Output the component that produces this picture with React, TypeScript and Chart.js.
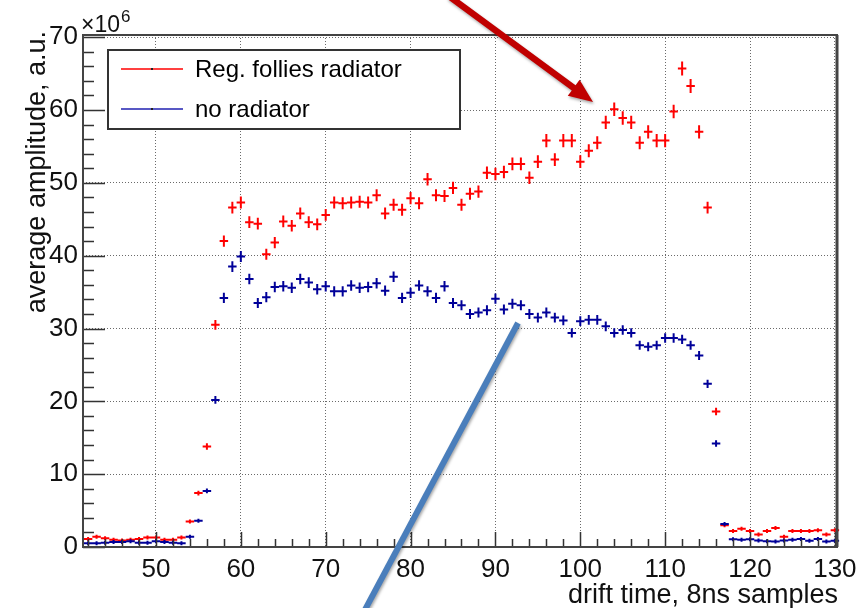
import React, { useEffect, useRef } from 'react';
import { Chart, registerables } from 'chart.js';

Chart.register(...registerables);

// ---- data (amplitudes in units of 10^6) ----
const driftTime = [
  42, 43, 44, 45, 46, 47, 48, 49, 50, 51, 52, 53, 54, 55, 56, 57, 58, 59, 60, 61,
  62, 63, 64, 65, 66, 67, 68, 69, 70, 71, 72, 73, 74, 75, 76, 77, 78, 79, 80, 81,
  82, 83, 84, 85, 86, 87, 88, 89, 90, 91, 92, 93, 94, 95, 96, 97, 98, 99, 100, 101,
  102, 103, 104, 105, 106, 107, 108, 109, 110, 111, 112, 113, 114, 115, 116, 117, 118, 119, 120, 121,
  122, 123, 124, 125, 126, 127, 128, 129, 130,
];

const regFollies = [
  1.1, 1.4, 1.2, 1.0, 0.9, 1.0, 1.1, 1.3, 1.3, 1.0, 1.0, 1.3, 3.5, 7.4, 13.8, 30.5, 42.0, 46.6, 47.3, 44.6,
  44.4, 40.2, 41.8, 44.7, 44.1, 45.8, 44.6, 44.3, 45.6, 47.3, 47.2, 47.3, 47.4, 47.3, 48.3, 45.8, 47.0, 46.3, 47.9, 47.2,
  50.5, 48.3, 48.2, 49.3, 47.0, 48.5, 48.8, 51.4, 51.2, 51.5, 52.6, 52.6, 50.7, 52.9, 55.8, 53.2, 55.8, 55.8, 52.9, 54.4,
  55.5, 58.3, 60.1, 58.9, 58.3, 55.5, 57.0, 55.8, 55.8, 59.8, 65.7, 63.3, 57.0, 46.6, 18.6, 3.0, 2.2, 2.5, 2.2, 1.7,
  2.2, 2.6, 1.4, 2.2, 2.2, 2.2, 2.3, 1.7, 2.3,
];

const noRadiator = [
  0.5, 0.5, 0.6, 0.7, 0.7, 0.8, 0.6, 0.6, 0.8, 0.7, 0.6, 0.5, 1.4, 3.6, 7.7, 20.2, 34.2, 38.5, 39.9, 36.8,
  33.5, 34.3, 35.7, 35.8, 35.6, 36.8, 36.3, 35.4, 35.8, 35.1, 35.1, 35.9, 35.6, 35.7, 36.2, 35.2, 37.1, 34.2, 34.9, 35.9,
  35.1, 34.2, 35.8, 33.5, 33.2, 32.0, 32.2, 32.5, 34.1, 32.6, 33.4, 33.2, 32.0, 31.5, 32.2, 31.5, 31.1, 29.4, 31.0, 31.2,
  31.2, 30.3, 29.4, 29.8, 29.4, 27.7, 27.5, 27.7, 28.7, 28.7, 28.5, 27.7, 26.3, 22.4, 14.2, 3.15, 1.05, 1.0, 1.05, 0.9,
  0.8, 0.75, 0.9, 1.0, 1.1, 0.85, 1.1, 0.75, 0.85,
];

const xTickValues = [50, 60, 70, 80, 90, 100, 110, 120, 130];
const yTickValues = [0, 10, 20, 30, 40, 50, 60, 70];
const seriesLabels = ['Reg. follies radiator', 'no radiator'];
const xTitle = 'drift time, 8ns samples';
const yTitle = 'average amplitude, a.u.';
const yMultiplierBase = '×10';
const yMultiplierExp = '6';

// annotation marks (data coordinates)
const redArrowFrom = [84.5, 75.65];
const redArrowTo = [101.5, 61.1];
const blueLineFrom = [74.5, -8.9];
const blueLineTo = [92.66, 30.76];

const FONT = '"Liberation Sans", Arial, Helvetica, sans-serif';
const RED = '#ff0000';
const BLUE = '#000099';

const decorPlugin = {
  id: 'decor',
  afterDatasetsDraw(chart: any) {
    const ctx = chart.ctx;
    const xs = chart.scales.x;
    const ys = chart.scales.y;
    chart.data.datasets.forEach((ds: any, di: number) => {
      const meta = chart.getDatasetMeta(di);
      ctx.save();
      ctx.strokeStyle = ds.borderColor;
      ctx.lineWidth = 2;
      ctx.beginPath();
      meta.data.forEach((el: any, i: number) => {
        const p = ds.data[i];
        const xl = xs.getPixelForValue(p.x - 0.5);
        const xr = xs.getPixelForValue(p.x + 0.5);
        const err = 0.12 * Math.sqrt(p.y);
        let h = ys.getPixelForValue(p.y - err) - el.y;
        if (h < 2) h = 2;
        ctx.moveTo(xl, el.y);
        ctx.lineTo(xr, el.y);
        ctx.moveTo(el.x, el.y - h);
        ctx.lineTo(el.x, el.y + h);
      });
      ctx.stroke();
      ctx.restore();
    });
  },
  afterDraw(chart: any) {
    const ctx = chart.ctx;
    const xs = chart.scales.x;
    const ys = chart.scales.y;
    const a = chart.chartArea;

    // tick marks (inside, ROOT style)
    ctx.save();
    ctx.strokeStyle = '#333';
    ctx.lineWidth = 1.5;
    ctx.beginPath();
    for (let v = 0; v <= 70; v += 2) {
      const y = Math.round(ys.getPixelForValue(v)) + 0.5;
      const len = v % 10 === 0 ? 22 : 11;
      ctx.moveTo(a.left, y);
      ctx.lineTo(a.left + len, y);
    }
    for (let v = 42; v <= 130; v += 2) {
      const x = Math.round(xs.getPixelForValue(v)) + 0.5;
      const len = v % 10 === 0 ? 15 : 8;
      ctx.moveTo(x, a.bottom);
      ctx.lineTo(x, a.bottom - len);
    }
    ctx.stroke();
    ctx.restore();

    // frame
    ctx.save();
    ctx.strokeStyle = '#444';
    ctx.lineWidth = 2;
    ctx.strokeRect(a.left, a.top, a.right - a.left, a.bottom - a.top);
    ctx.lineWidth = 3;
    ctx.beginPath();
    ctx.moveTo(a.right, a.top);
    ctx.lineTo(a.right, a.bottom);
    ctx.stroke();
    ctx.restore();

    // legend
    ctx.save();
    ctx.fillStyle = '#fff';
    ctx.fillRect(108, 50, 352, 79);
    ctx.strokeStyle = '#333';
    ctx.lineWidth = 2;
    ctx.strokeRect(108, 50, 352, 79);
    const entries = [
      { label: seriesLabels[0], color: RED, y: 69 },
      { label: seriesLabels[1], color: '#2020b0', y: 109 },
    ];
    entries.forEach((e) => {
      ctx.strokeStyle = e.color;
      ctx.lineWidth = 1.5;
      ctx.beginPath();
      ctx.moveTo(121, e.y);
      ctx.lineTo(183, e.y);
      ctx.stroke();
      ctx.fillStyle = '#222';
      ctx.fillRect(151, e.y - 1, 2, 2);
      ctx.fillStyle = '#000';
      ctx.font = `24px ${FONT}`;
      ctx.textAlign = 'left';
      ctx.textBaseline = 'middle';
      ctx.fillText(e.label, 195, e.y + 1);
    });
    ctx.restore();

    // multiplier
    ctx.save();
    ctx.fillStyle = '#111';
    ctx.textAlign = 'left';
    ctx.textBaseline = 'alphabetic';
    ctx.font = `23px ${FONT}`;
    ctx.fillText(yMultiplierBase, 81, 32);
    const w = ctx.measureText(yMultiplierBase).width;
    ctx.font = `17px ${FONT}`;
    ctx.fillText(yMultiplierExp, 81 + w + 1, 22);
    ctx.restore();

    // axis titles
    ctx.save();
    ctx.fillStyle = '#111';
    ctx.font = `27px ${FONT}`;
    ctx.textAlign = 'right';
    ctx.textBaseline = 'alphabetic';
    ctx.fillText(xTitle, 838, 603);
    ctx.translate(45, 31);
    ctx.rotate(-Math.PI / 2);
    ctx.fillText(yTitle, 0, 0);
    ctx.restore();

    // annotation arrow (dark red)
    ctx.save();
    ctx.shadowColor = 'rgba(0,0,0,0.35)';
    ctx.shadowBlur = 3;
    ctx.shadowOffsetX = 1;
    ctx.shadowOffsetY = 2;
    const p0x = xs.getPixelForValue(redArrowFrom[0]);
    const p0y = ys.getPixelForValue(redArrowFrom[1]);
    const p1x = xs.getPixelForValue(redArrowTo[0]);
    const p1y = ys.getPixelForValue(redArrowTo[1]);
    const dx = p1x - p0x;
    const dy = p1y - p0y;
    const L = Math.hypot(dx, dy);
    const ux = dx / L;
    const uy = dy / L;
    const nx = -uy;
    const ny = ux;
    const headLen = 24;
    const headW = 10;
    const sw = 3.2;
    const bx = p1x - ux * headLen;
    const by = p1y - uy * headLen;
    ctx.fillStyle = '#c00000';
    ctx.beginPath();
    ctx.moveTo(p0x + nx * sw, p0y + ny * sw);
    ctx.lineTo(bx + nx * sw, by + ny * sw);
    ctx.lineTo(bx + nx * headW, by + ny * headW);
    ctx.lineTo(p1x, p1y);
    ctx.lineTo(bx - nx * headW, by - ny * headW);
    ctx.lineTo(bx - nx * sw, by - ny * sw);
    ctx.lineTo(p0x - nx * sw, p0y - ny * sw);
    ctx.closePath();
    ctx.fill();

    // annotation line (blue)
    ctx.strokeStyle = '#4a7ebb';
    ctx.lineWidth = 6;
    ctx.lineCap = 'butt';
    ctx.beginPath();
    ctx.moveTo(xs.getPixelForValue(blueLineFrom[0]), ys.getPixelForValue(blueLineFrom[1]));
    ctx.lineTo(xs.getPixelForValue(blueLineTo[0]), ys.getPixelForValue(blueLineTo[1]));
    ctx.stroke();
    ctx.restore();
  },
};

export default function App() {
  const canvasRef = useRef<HTMLCanvasElement | null>(null);

  useEffect(() => {
    const canvas = canvasRef.current;
    if (!canvas) return;
    const chart = new Chart(canvas, {
      type: 'scatter',
      data: {
        datasets: [
          {
            label: seriesLabels[0],
            data: driftTime.map((x, i) => ({ x, y: regFollies[i] })),
            borderColor: RED,
            backgroundColor: RED,
            pointRadius: 0,
            pointHoverRadius: 0,
            showLine: false,
          },
          {
            label: seriesLabels[1],
            data: driftTime.map((x, i) => ({ x, y: noRadiator[i] })),
            borderColor: BLUE,
            backgroundColor: BLUE,
            pointRadius: 0,
            pointHoverRadius: 0,
            showLine: false,
          },
        ],
      },
      options: {
        responsive: false,
        animation: false,
        devicePixelRatio: 1,
        events: [],
        layout: { padding: { top: 35, right: 31, left: 0, bottom: 0 } },
        plugins: {
          legend: { display: false },
          tooltip: { enabled: false },
          title: { display: false },
        },
        scales: {
          x: {
            type: 'linear',
            min: 41.4,
            max: 130.25,
            afterBuildTicks: (s: any) => {
              s.ticks = xTickValues.map((v) => ({ value: v }));
            },
            afterFit: (s: any) => {
              s.height = 61;
            },
            ticks: {
              font: { family: FONT, size: 26 },
              color: '#111',
              padding: 7,
              maxRotation: 0,
              autoSkip: false,
            },
            grid: { color: '#6a6a6a', lineWidth: 1, drawTicks: false },
            border: { display: false, dash: [1, 2] },
          },
          y: {
            type: 'linear',
            min: 0,
            max: 70.3,
            afterBuildTicks: (s: any) => {
              s.ticks = yTickValues.map((v) => ({ value: v }));
            },
            afterFit: (s: any) => {
              s.width = 83;
            },
            ticks: {
              font: { family: FONT, size: 26 },
              color: '#111',
              padding: 5,
              autoSkip: false,
            },
            grid: { color: '#6a6a6a', lineWidth: 1, drawTicks: false },
            border: { display: false, dash: [1, 2] },
          },
        },
      } as any,
      plugins: [decorPlugin],
    });
    return () => chart.destroy();
  }, []);

  return (
    <div style={{ position: 'absolute', left: 0, top: 0, width: 868, height: 608, background: '#fff' }}>
      <canvas ref={canvasRef} width={868} height={608} style={{ display: 'block' }} />
    </div>
  );
}
